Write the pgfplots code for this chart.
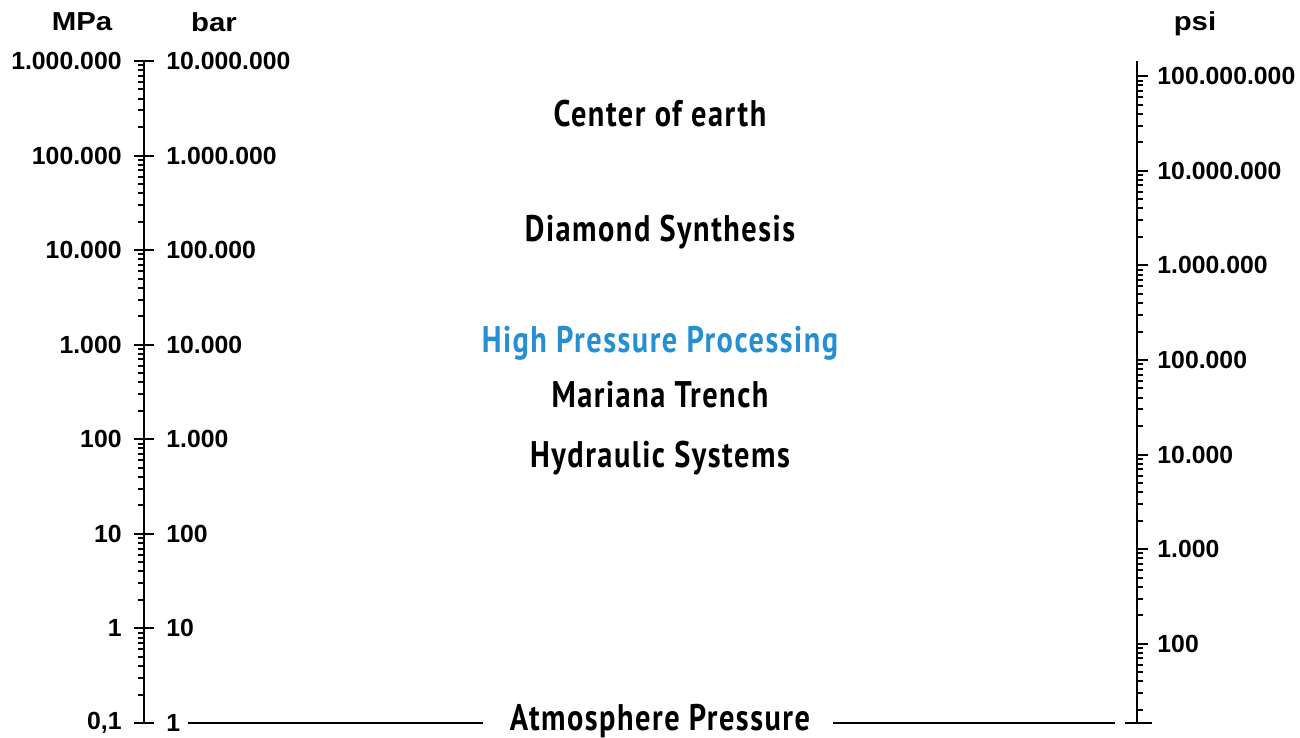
\documentclass[border=0pt]{standalone}
\usepackage{fontspec}
\setmainfont{Liberation Sans}
\newfontfamily\annfont[LetterSpace=5]{PT Sans}
\usepackage{graphicx}
\usepackage{pgfplots}
\pgfplotsset{compat=1.18}
\definecolor{hpp}{RGB}{38,143,210}
\newcommand\tfont{\fontsize{12.4}{14}\selectfont\bfseries}
\newcommand\afont{\annfont\bfseries\fontsize{18.5}{22}\selectfont}
\newcommand\ann[1]{\scalebox{0.82}[1]{#1}}
\newcommand\ttl[1]{\scalebox{1.13}[1]{\fontsize{13}{15}\selectfont\bfseries #1}}
\begin{document}
\begin{tikzpicture}
\useasboundingbox (0,0) rectangle (650pt,369pt);
% MPa minor (drawn first, left side)
\begin{axis}[scale only axis, width=496.5pt, height=331pt,
  at={(72pt,7.5pt)}, anchor=south west,
  xmin=144, xmax=1137, hide x axis, ymode=log, clip=false,
  ymin=0.1, ymax=1e6, axis y line=left,
  every outer y axis line/.append style={-}, every inner y axis line/.append style={-},
  y axis line style={-, line width=1pt}, tick style={black,line width=1pt},
  ytick={0.1,1,10,100,1000,10000,100000,1000000},
  yticklabels={{},{},{},{},{},{},{},{}},
  yticklabel style={text opacity=0},
  minor ytick={0.2,0.3,0.4,0.5,0.6,0.7,0.8,0.9,
    2,3,4,5,6,7,8,9,20,30,40,50,60,70,80,90,
    200,300,400,500,600,700,800,900,2000,3000,4000,5000,6000,7000,8000,9000,
    20000,30000,40000,50000,60000,70000,80000,90000,
    200000,300000,400000,500000,600000,700000,800000,900000},
  tick align=outside, major tick length=0pt, minor tick length=3pt]
\end{axis}
% MPa major
\begin{axis}[scale only axis, width=496.5pt, height=331pt,
  at={(72pt,7.5pt)}, anchor=south west,
  xmin=144, xmax=1137, hide x axis, ymode=log, clip=false,
  ymin=0.1, ymax=1e6, axis y line=left,
  every outer y axis line/.append style={-}, every inner y axis line/.append style={-},
  y axis line style={-, line width=1pt}, tick style={black,line width=1pt},
  ytick={0.1,1,10,100,1000,10000,100000,1000000},
  yticklabels={{0,1},{1},{10},{100},{1.000},{10.000},{100.000},{1.000.000}},
  minor tick length=0pt, minor tick style={draw=none},
  tick align=center, major tick length=10pt,
  yticklabel style={font=\tfont, inner sep=0pt, anchor=east, xshift=-6pt}]
\addplot[black, line width=0.75pt] coordinates {(188,0.1) (483,0.1)};
\addplot[black, line width=0.75pt] coordinates {(833,0.1) (1115,0.1)};
\addplot[black, line width=1pt] coordinates {(1125,0.1) (1152,0.1)};
\node[font=\afont, inner sep=0pt] at (axis cs:660,2.8e5) {\ann{Center of earth}};
\node[font=\afont, inner sep=0pt] at (axis cs:660,15500) {\ann{Diamond Synthesis}};
\node[font=\afont, inner sep=0pt, text=hpp] at (axis cs:660,1040) {\ann{High Pressure Processing}};
\node[font=\afont, inner sep=0pt] at (axis cs:660,300) {\ann{Mariana Trench}};
\node[font=\afont, inner sep=0pt] at (axis cs:660,63) {\ann{Hydraulic Systems}};
\node[font=\afont, inner sep=0pt] at (axis cs:660,0.105) {\ann{Atmosphere Pressure}};
\end{axis}
% bar labels
\begin{axis}[scale only axis, width=496.5pt, height=331pt,
  at={(72pt,7.5pt)}, anchor=south west,
  xmin=144, xmax=1137, hide x axis, ymode=log, clip=false,
  ymin=1, ymax=1e7, axis y line=left, y axis line style={draw=none},
  every outer y axis line/.append style={draw=none}, every inner y axis line/.append style={draw=none},
  ytick={1,10,100,1000,10000,100000,1000000,10000000},
  yticklabels={{1},{10},{100},{1.000},{10.000},{100.000},{1.000.000},{10.000.000}},
  major tick length=0pt, minor tick length=0pt, tick style={draw=none},
  yticklabel style={font=\tfont, inner sep=0pt, anchor=west, xshift=11pt}]
\end{axis}
% psi
\begin{axis}[scale only axis, width=496.5pt, height=331pt,
  at={(72pt,7.5pt)}, anchor=south west,
  xmin=144, xmax=1137, hide x axis, ymode=log, clip=false,
  ymin=14.5038, ymax=1.45038e8, axis y line=right,
  every outer y axis line/.append style={-}, every inner y axis line/.append style={-},
  y axis line style={-, line width=1pt}, tick style={black,line width=1pt},
  ytick={100,1000,10000,100000,1000000,10000000,100000000},
  yticklabels={{100},{1.000},{10.000},{100.000},{1.000.000},{10.000.000},{100.000.000}},
  minor ytick={20,30,40,50,60,70,80,90,200,300,400,500,600,700,800,900,
    2000,3000,4000,5000,6000,7000,8000,9000,20000,30000,40000,50000,60000,70000,80000,90000,
    200000,300000,400000,500000,600000,700000,800000,900000,
    2000000,3000000,4000000,5000000,6000000,7000000,8000000,9000000,
    20000000,30000000,40000000,50000000,60000000,70000000,80000000,90000000},
  tick align=outside, major tick length=5.5pt, minor tick length=3pt,
  yticklabel style={font=\tfont, inner sep=0pt, anchor=west, xshift=4.5pt}]
\end{axis}
\node at (41pt,358pt) {\ttl{MPa}};
\node at (107pt,358pt) {\ttl{bar}};
\node at (597.5pt,357pt) {\ttl{psi}};
\end{tikzpicture}
\end{document}
